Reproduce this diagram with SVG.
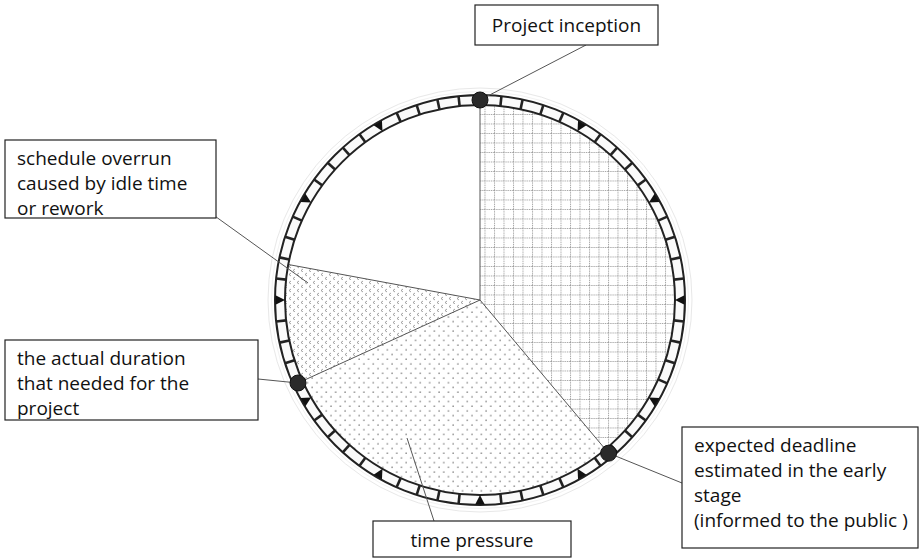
<svg xmlns="http://www.w3.org/2000/svg" xmlns:xlink="http://www.w3.org/1999/xlink" width="920" height="558" viewBox="0 0 920 558">
  <style>
    .box { fill: #fff; stroke: #222; stroke-width: 1.2; }
    .lbl { font-family: "Open Sans", "Liberation Sans", sans-serif; font-size: 19px; fill: #111; }
    .edge { stroke: #555; stroke-width: 1; fill: none; }
    .lead { stroke: #555; stroke-width: 1; fill: none; }
    .rim { fill: none; stroke: #222; stroke-width: 2; }
    .tick { stroke: #222; stroke-width: 2.6; }
    .mark { fill: #111; }
    .dot { fill: #2a2a2a; stroke: #111; stroke-width: 1; }
  </style>
  <defs>
    <!-- dashed grid fill -->
    <pattern id="grid" width="9.5" height="9.5" patternUnits="userSpaceOnUse">
      <path d="M0.5 0 V9.5 M0 0.5 H9.5" stroke="#9a9a9a" stroke-width="1" stroke-dasharray="1.2 1" fill="none"/>
    </pattern>
    <!-- staggered dot fill -->
    <pattern id="dots" width="9.4" height="9.4" patternUnits="userSpaceOnUse">
      <circle cx="2" cy="2" r="0.8" fill="#8a8a8a"/>
      <circle cx="6.7" cy="6.7" r="0.8" fill="#8a8a8a"/>
    </pattern>
    <!-- small chevron fill -->
    <pattern id="chev" width="8" height="8" patternUnits="userSpaceOnUse">
      <path d="M3 1 L1 2.5 L3 4" stroke="#8a8a8a" stroke-width="0.8" fill="none"/>
      <path d="M7 5 L5 6.5 L7 8" stroke="#8a8a8a" stroke-width="0.8" fill="none"/>
    </pattern>
    <line id="tk" class="tick" x1="480" y1="95" x2="480" y2="105"/>
    <path id="tri" class="mark" d="M475.2 95.5 L484.8 95.5 L480 105 Z"/>
  </defs>

  <rect width="920" height="558" fill="#fff"/>

  <!-- faint halo around the dial -->
  <circle cx="480" cy="300" r="212" fill="none" stroke="#e8e8e8" stroke-width="1"/>
  <circle cx="480" cy="300" r="208.5" fill="none" stroke="#f2f2f2" stroke-width="1"/>

  <!-- sectors -->
  <g id="sectors">
    <path id="sector-planned" d="M480 300 L480 105 A195 195 0 0 1 605.3 449.4 Z" fill="url(#grid)"/>
    <path id="sector-pressure" d="M480 300 L605.3 449.4 A195 195 0 0 1 302.5 380.9 Z" fill="url(#dots)"/>
    <path id="sector-overrun" d="M480 300 L302.5 380.9 A195 195 0 0 1 288.3 264.5 Z" fill="url(#chev)"/>
    <path class="edge" d="M480 100 L480 300 L608.6 453.2 M480 300 L298 383 M480 300 L288.3 264.5"/>
  </g>

  <!-- dial ring -->
  <g id="dial">
    <circle cx="480" cy="300" r="200" fill="none" stroke="#fafafa" stroke-width="9"/>
    <circle class="rim" cx="480" cy="300" r="205"/>
    <circle class="rim" cx="480" cy="300" r="195"/>
    <g id="minute-ticks">
      <use xlink:href="#tk" transform="rotate(6 480 300)"/>
      <use xlink:href="#tk" transform="rotate(12 480 300)"/>
      <use xlink:href="#tk" transform="rotate(18 480 300)"/>
      <use xlink:href="#tk" transform="rotate(24 480 300)"/>
      <use xlink:href="#tk" transform="rotate(36 480 300)"/>
      <use xlink:href="#tk" transform="rotate(42 480 300)"/>
      <use xlink:href="#tk" transform="rotate(48 480 300)"/>
      <use xlink:href="#tk" transform="rotate(54 480 300)"/>
      <use xlink:href="#tk" transform="rotate(66 480 300)"/>
      <use xlink:href="#tk" transform="rotate(72 480 300)"/>
      <use xlink:href="#tk" transform="rotate(78 480 300)"/>
      <use xlink:href="#tk" transform="rotate(84 480 300)"/>
      <use xlink:href="#tk" transform="rotate(96 480 300)"/>
      <use xlink:href="#tk" transform="rotate(102 480 300)"/>
      <use xlink:href="#tk" transform="rotate(108 480 300)"/>
      <use xlink:href="#tk" transform="rotate(114 480 300)"/>
      <use xlink:href="#tk" transform="rotate(126 480 300)"/>
      <use xlink:href="#tk" transform="rotate(132 480 300)"/>
      <use xlink:href="#tk" transform="rotate(138 480 300)"/>
      <use xlink:href="#tk" transform="rotate(144 480 300)"/>
      <use xlink:href="#tk" transform="rotate(156 480 300)"/>
      <use xlink:href="#tk" transform="rotate(162 480 300)"/>
      <use xlink:href="#tk" transform="rotate(168 480 300)"/>
      <use xlink:href="#tk" transform="rotate(174 480 300)"/>
      <use xlink:href="#tk" transform="rotate(186 480 300)"/>
      <use xlink:href="#tk" transform="rotate(192 480 300)"/>
      <use xlink:href="#tk" transform="rotate(198 480 300)"/>
      <use xlink:href="#tk" transform="rotate(204 480 300)"/>
      <use xlink:href="#tk" transform="rotate(216 480 300)"/>
      <use xlink:href="#tk" transform="rotate(222 480 300)"/>
      <use xlink:href="#tk" transform="rotate(228 480 300)"/>
      <use xlink:href="#tk" transform="rotate(234 480 300)"/>
      <use xlink:href="#tk" transform="rotate(246 480 300)"/>
      <use xlink:href="#tk" transform="rotate(252 480 300)"/>
      <use xlink:href="#tk" transform="rotate(258 480 300)"/>
      <use xlink:href="#tk" transform="rotate(264 480 300)"/>
      <use xlink:href="#tk" transform="rotate(276 480 300)"/>
      <use xlink:href="#tk" transform="rotate(282 480 300)"/>
      <use xlink:href="#tk" transform="rotate(288 480 300)"/>
      <use xlink:href="#tk" transform="rotate(294 480 300)"/>
      <use xlink:href="#tk" transform="rotate(306 480 300)"/>
      <use xlink:href="#tk" transform="rotate(312 480 300)"/>
      <use xlink:href="#tk" transform="rotate(318 480 300)"/>
      <use xlink:href="#tk" transform="rotate(324 480 300)"/>
      <use xlink:href="#tk" transform="rotate(336 480 300)"/>
      <use xlink:href="#tk" transform="rotate(342 480 300)"/>
      <use xlink:href="#tk" transform="rotate(348 480 300)"/>
      <use xlink:href="#tk" transform="rotate(354 480 300)"/>
    </g>
    <g id="hour-marks">
      <use xlink:href="#tri"/>
      <use xlink:href="#tri" transform="rotate(30 480 300)"/>
      <use xlink:href="#tri" transform="rotate(60 480 300)"/>
      <use xlink:href="#tri" transform="rotate(90 480 300)"/>
      <use xlink:href="#tri" transform="rotate(120 480 300)"/>
      <use xlink:href="#tri" transform="rotate(150 480 300)"/>
      <use xlink:href="#tri" transform="rotate(180 480 300)"/>
      <use xlink:href="#tri" transform="rotate(210 480 300)"/>
      <use xlink:href="#tri" transform="rotate(240 480 300)"/>
      <use xlink:href="#tri" transform="rotate(270 480 300)"/>
      <use xlink:href="#tri" transform="rotate(300 480 300)"/>
      <use xlink:href="#tri" transform="rotate(330 480 300)"/>
    </g>
  </g>

  <!-- leader lines -->
  <g id="connectors">
    <path class="lead" d="M480 100 L586 45"/>
    <path class="lead" d="M212 214 L308 283"/>
    <path class="lead" d="M258 379 L298 383"/>
    <path class="lead" d="M608.6 453.2 L682 483"/>
    <path class="lead" d="M407 438 L434 521"/>
  </g>

  <!-- event dots -->
  <g id="dots-on-dial">
    <circle class="dot" cx="480" cy="100" r="8"/>
    <circle class="dot" cx="608.6" cy="453.2" r="8"/>
    <circle class="dot" cx="298" cy="383" r="8"/>
  </g>

  <g id="node-inception">
    <rect class="box" x="475" y="5" width="183" height="40"/>
    <text class="lbl" x="566.5" y="32" text-anchor="middle">Project inception</text>
  </g>

  <g id="node-overrun">
    <rect class="box" x="5" y="140" width="211" height="78"/>
    <text class="lbl" x="17" y="165">schedule overrun</text>
    <text class="lbl" x="17" y="190">caused by idle time</text>
    <text class="lbl" x="17" y="215">or rework</text>
  </g>

  <g id="node-actual">
    <rect class="box" x="5" y="340" width="253" height="80"/>
    <text class="lbl" x="17" y="365">the actual duration</text>
    <text class="lbl" x="17" y="390">that needed for the</text>
    <text class="lbl" x="17" y="415">project</text>
  </g>

  <g id="node-deadline">
    <rect class="box" x="682" y="427" width="236" height="121"/>
    <text class="lbl" x="694" y="452">expected deadline</text>
    <text class="lbl" x="694" y="477">estimated in the early</text>
    <text class="lbl" x="694" y="502">stage</text>
    <text class="lbl" x="694" y="527">(informed to the public )</text>
  </g>

  <g id="node-pressure">
    <rect class="box" x="373" y="521" width="198" height="36"/>
    <text class="lbl" x="472" y="547" text-anchor="middle">time pressure</text>
  </g>
</svg>
